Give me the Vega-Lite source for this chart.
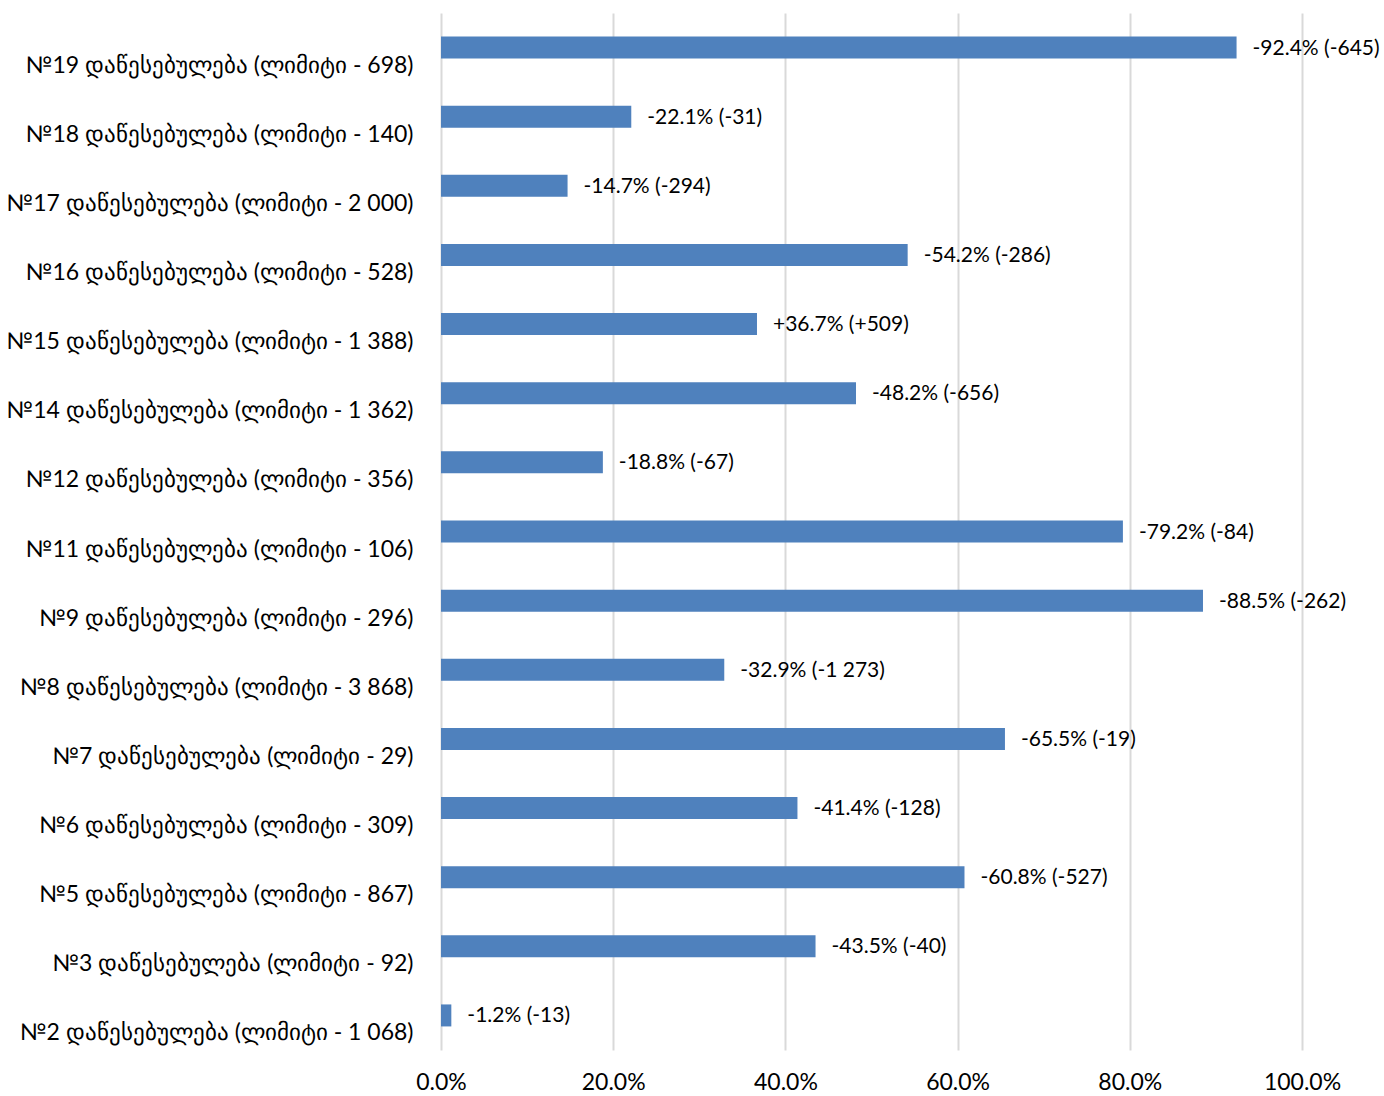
{
  "$schema": "https://vega.github.io/schema/vega-lite/v6.json",
  "autosize": {"type": "none"},
  "padding": {"left": 441, "top": 13, "right": 82, "bottom": 46},
  "width": 861,
  "height": 1037,
  "background": "white",
  "config": {"view": {"stroke": null}, "font": "Lato"},
  "data": {"values": [
    {"cat": "№19 დაწესებულება (ლიმიტი - 698)", "v": 0.924, "lab": "-92.4% (-645)"},
    {"cat": "№18 დაწესებულება (ლიმიტი - 140)", "v": 0.221, "lab": "-22.1% (-31)"},
    {"cat": "№17 დაწესებულება (ლიმიტი - 2 000)", "v": 0.147, "lab": "-14.7% (-294)"},
    {"cat": "№16 დაწესებულება (ლიმიტი - 528)", "v": 0.542, "lab": "-54.2% (-286)"},
    {"cat": "№15 დაწესებულება (ლიმიტი - 1 388)", "v": 0.367, "lab": "+36.7% (+509)"},
    {"cat": "№14 დაწესებულება (ლიმიტი - 1 362)", "v": 0.482, "lab": "-48.2% (-656)"},
    {"cat": "№12 დაწესებულება (ლიმიტი - 356)", "v": 0.188, "lab": "-18.8% (-67)"},
    {"cat": "№11 დაწესებულება (ლიმიტი - 106)", "v": 0.792, "lab": "-79.2% (-84)"},
    {"cat": "№9 დაწესებულება (ლიმიტი - 296)", "v": 0.885, "lab": "-88.5% (-262)"},
    {"cat": "№8 დაწესებულება (ლიმიტი - 3 868)", "v": 0.329, "lab": "-32.9% (-1 273)"},
    {"cat": "№7 დაწესებულება (ლიმიტი - 29)", "v": 0.655, "lab": "-65.5% (-19)"},
    {"cat": "№6 დაწესებულება (ლიმიტი - 309)", "v": 0.414, "lab": "-41.4% (-128)"},
    {"cat": "№5 დაწესებულება (ლიმიტი - 867)", "v": 0.608, "lab": "-60.8% (-527)"},
    {"cat": "№3 დაწესებულება (ლიმიტი - 92)", "v": 0.435, "lab": "-43.5% (-40)"},
    {"cat": "№2 დაწესებულება (ლიმიტი - 1 068)", "v": 0.012, "lab": "-1.2% (-13)"}
  ]},
  "encoding": {
    "y": {
      "field": "cat", "type": "nominal", "sort": null, "title": null,
      "scale": {"paddingInner": 0, "paddingOuter": 0},
      "axis": {"domain": false, "ticks": false, "labelPadding": 28, "labelOffset": 18,
               "labelFontSize": 23, "labelColor": "#000000", "labelLimit": 500, "labelFont": "Lato"}
    }
  },
  "layer": [
    {
      "mark": {"type": "bar", "size": 22, "color": "#4F81BD"},
      "encoding": {
        "x": {
          "field": "v", "type": "quantitative", "title": null,
          "scale": {"domain": [0, 1], "nice": false},
          "axis": {"values": [0, 0.2, 0.4, 0.6, 0.8, 1.0], "format": ".1%", "domain": false, "ticks": false,
                   "grid": true, "gridColor": "#D9D9D9", "gridWidth": 2, "labelFlush": false,
                   "labelFontSize": 23, "labelColor": "#000000", "labelPadding": 21, "labelFont": "Lato"}
        }
      }
    },
    {
      "mark": {"type": "text", "align": "left", "baseline": "middle", "dx": 16, "dy": 1, "fontSize": 21, "color": "#000000", "font": "Lato"},
      "encoding": {
        "x": {"field": "v", "type": "quantitative"},
        "text": {"field": "lab"}
      }
    }
  ]
}
